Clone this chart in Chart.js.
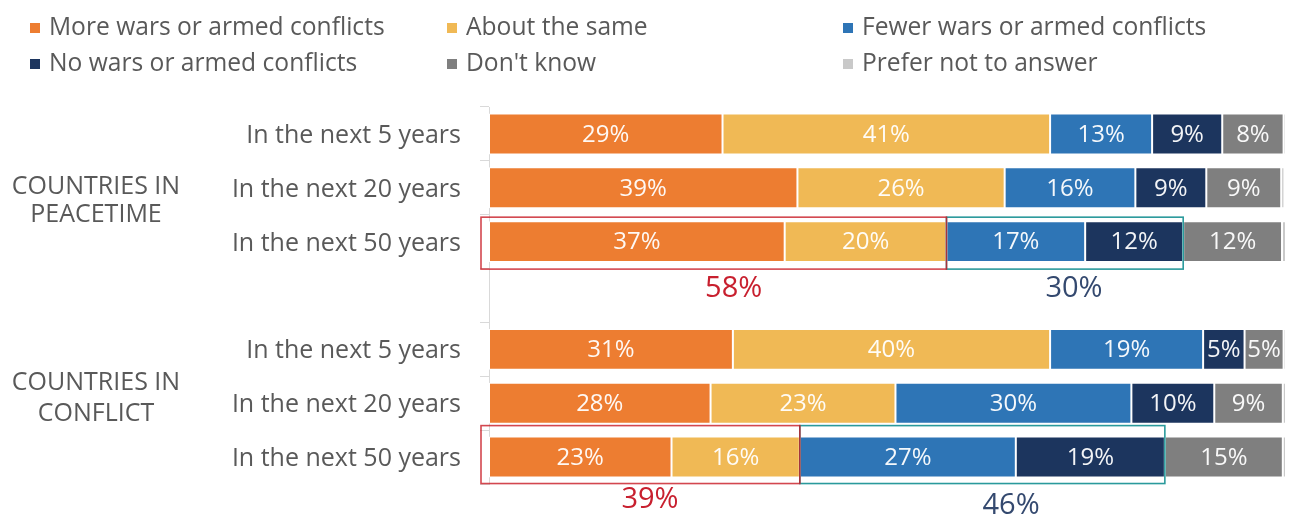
<!DOCTYPE html>
<html>
<head>
<meta charset="utf-8">
<script src="https://cdn.jsdelivr.net/npm/chart.js@4"></script>
<style>
    body { margin: 0; background: #fff; font-family: 'Open Sans', sans-serif; }
    #wrap { position: relative; width: 1294px; height: 518px; }
    #legend { position: absolute; left: 0; top: 0; width: 1294px; height: 90px; }
    .item { position: absolute; font-size: 24.6px; color: #595959; line-height: 30px; white-space: nowrap; }
    .item span { display: inline-block; width: 10px; height: 10px; margin-right: 9px; vertical-align: 2px; }
    canvas { position: absolute; left: 0; top: 0; }
</style>
</head>
<body>
<div id="wrap">
    <canvas id="chart" width="1294" height="518"></canvas>
    <div id="legend"></div>
</div>
<script>
const categories = ['In the next 5 years', 'In the next 20 years', 'In the next 50 years', '',
    'In the next 5 years', 'In the next 20 years', 'In the next 50 years'];
const seriesNames = ['More wars or armed conflicts', 'About the same', 'Fewer wars or armed conflicts',
    'No wars or armed conflicts', "Don't know", 'Prefer not to answer'];
const moreWars = [29.3, 38.7, 37.1, null, 30.6, 27.8, 22.9];
const aboutSame = [41.1, 26.0, 20.3, null, 39.8, 23.2, 16.1];
const fewerWars = [12.8, 16.4, 17.4, null, 19.2, 29.6, 27.1];
const noWars = [8.8, 8.9, 12.3, null, 5.2, 10.4, 18.7];
const dontKnow = [7.7, 9.4, 12.4, null, 4.9, 8.6, 14.8];
const preferNot = [0.3, 0.4, 0.5, null, 0.3, 0.4, 0.4];
const seriesColors = ['#ED7D31', '#F0B955', '#2E75B6', '#1C355E', '#7F7F7F', '#C9C9C9'];

// combined shares shown under the 50-year rows
const summaryRows = [2, 6];
const pessimistic = ['58%', '39%'];
const optimistic = ['30%', '46%'];

const groupLabels = [['COUNTRIES IN', 'PEACETIME'], ['COUNTRIES IN', 'CONFLICT']];

const FONT = "'Open Sans', sans-serif";
const TEXT = '#595959';

// legend, three columns
const legendPos = [[30, 11], [447, 11], [843, 11], [30, 47], [447, 47], [843, 47]];
let legendHtml = '';
seriesNames.forEach((name, i) => {
    legendHtml += `<div class="item" style="left:${legendPos[i][0]}px;top:${legendPos[i][1]}px">` +
        `<span style="background:${seriesColors[i]}"></span>${name}</div>`;
});
document.getElementById('legend').innerHTML = legendHtml;

const allSeries = [moreWars, aboutSame, fewerWars, noWars, dontKnow, preferNot];

const labelPlugin = {
    id: 'labels',
    afterDatasetsDraw(chart) {
        const ctx = chart.ctx;
        ctx.save();
        ctx.font = `24px ${FONT}`;
        ctx.textAlign = 'center';
        ctx.textBaseline = 'middle';
        ctx.fillStyle = 'rgba(255,255,255,0.95)';
        for (let d = 0; d < 5; d++) {
            const meta = chart.getDatasetMeta(d);
            meta.data.forEach((bar, i) => {
                const v = allSeries[d][i];
                if (v == null) return;
                ctx.fillText(Math.round(v) + '%', (bar.x + bar.base) / 2, bar.y + 1);
            });
        }

        // group titles on the left
        const y = chart.scales.y;
        ctx.fillStyle = TEXT;
        ctx.font = `25px ${FONT}`;
        const g1 = y.getPixelForValue(1);
        ctx.fillText(groupLabels[0][0], 96, g1 - 1);
        ctx.fillText(groupLabels[0][1], 96, g1 + 27);
        const g2 = y.getPixelForValue(5);
        ctx.fillText(groupLabels[1][0], 96, g2 - 20);
        ctx.fillText(groupLabels[1][1], 96, g2 + 11);

        // boxes and combined shares
        const pads = [[4, 7], [11, 6]];
        const textOff = [[47, 47], [43, 49]];
        const textX = [[30.7, 73.4], [20.2, 65.5]];
        const x = chart.scales.x;
        summaryRows.forEach((row, k) => {
            const b1 = chart.getDatasetMeta(1).data[row];
            const b3 = chart.getDatasetMeta(3).data[row];
            const top = b1.y - b1.height / 2 - pads[k][0];
            const bottom = b1.y + b1.height / 2 + pads[k][1];
            ctx.lineWidth = 1.6;
            ctx.strokeStyle = '#2A9A9C';
            ctx.strokeRect(b1.x, top, b3.x - b1.x, bottom - top);
            ctx.strokeStyle = 'rgba(200,25,35,0.8)';
            ctx.strokeRect(chart.chartArea.left - 8, top, b1.x - chart.chartArea.left + 8, bottom - top);

            ctx.font = `29px ${FONT}`;
            ctx.fillStyle = '#C8202F';
            ctx.fillText(pessimistic[k], x.getPixelForValue(textX[k][0]), b1.y + textOff[k][0]);
            ctx.fillStyle = '#34496F';
            ctx.fillText(optimistic[k], x.getPixelForValue(textX[k][1]), b1.y + textOff[k][1]);
        });
        ctx.restore();
    }
};

new Chart(document.getElementById('chart'), {
    type: 'bar',
    data: {
        labels: categories,
        datasets: allSeries.map((values, i) => ({
            label: seriesNames[i],
            data: values,
            backgroundColor: seriesColors[i],
            borderColor: '#ffffff',
            borderWidth: 1,
            borderSkipped: false,
            categoryPercentage: 1,
            barPercentage: 0.76
        }))
    },
    options: {
        indexAxis: 'y',
        responsive: false,
        animation: false,
        layout: { padding: { top: 107, bottom: 33, right: 8, left: 0 } },
        plugins: { legend: { display: false }, tooltip: { enabled: false } },
        scales: {
            x: { stacked: true, display: false, min: 0, max: 100 },
            y: {
                stacked: true,
                grid: { offset: true, drawOnChartArea: false, tickLength: 9, color: '#D9D9D9' },
                border: { color: '#D9D9D9' },
                ticks: { padding: 19, labelOffset: 2, color: TEXT, font: { family: FONT, size: 25 } },
                afterFit(scale) { scale.width = 489; }
            }
        }
    },
    plugins: [labelPlugin]
});
</script>
</body>
</html>
